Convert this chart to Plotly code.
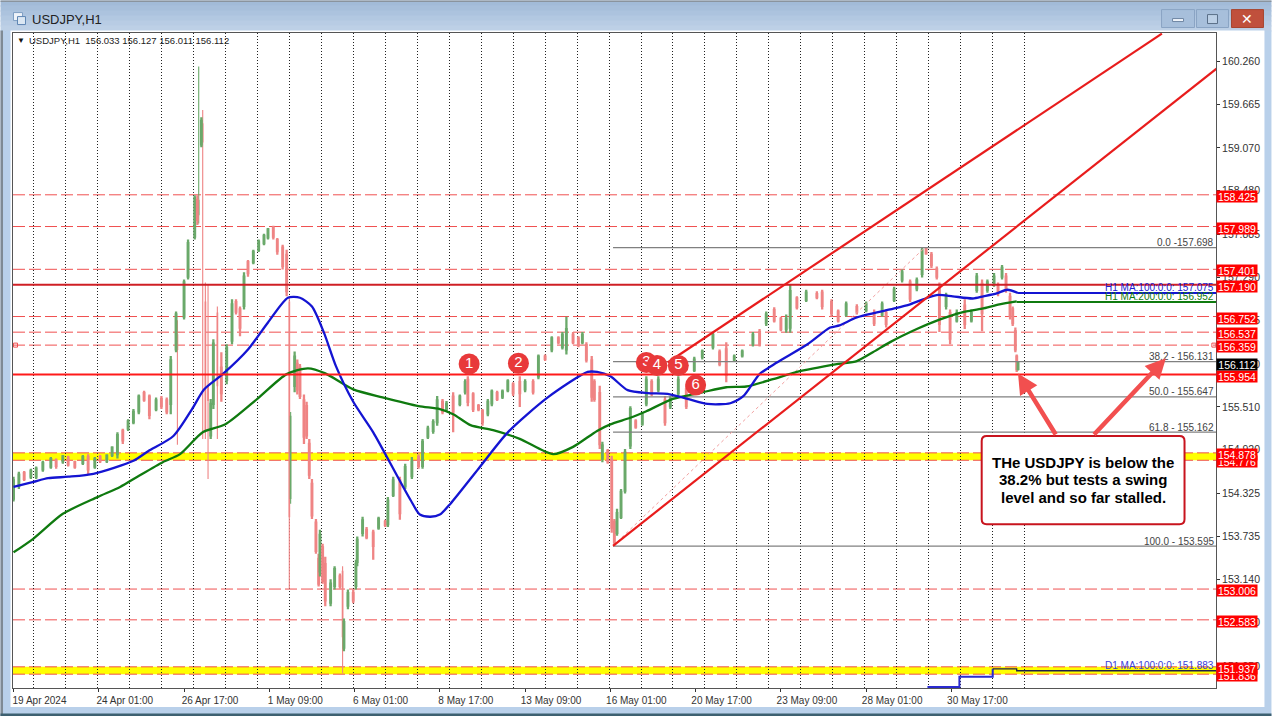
import plotly.graph_objects as go

# ---- candle data (hourly bar index, prices) ----
bars = [0,4,8,13,17,22,28,32,37,41,
46,52,56,61,65,70,74,78,82,86,
90,94,98,102,107,111,115,118,122,123,
128,131,136,138,139,141,142,144,146,148,
150,153,156,160,164,167,170,173,176,180,
184,188,191,195,198,202,205,207,208,211,
213,215,218,220,222,224,227,229,230,232,
234,238,241,245,247,248,251,255,257,258,
262,265,270,274,279,281,285,290,294,299,
304,307,311,315,318,322,325,330,335,339,
341,345,349,352,356,359,363,367,371,375,
380,384,390,394,399,404,409,412,415,420,
424,427,430,434,436,440,442,446,449,451,
453,456,459,463,467,472,475,479,484,489,
493,499,505,511,517,525,530,535,541,547,
555,560,565,571,576,580,583,588,595,603,
607,614,619,625,633,640,646,652,655,661,
667,673,678,682,685,689,693,695,700,703,
708,714,719,723,727,731,736,739,742,745,
748,750,752,753,754]
opens = [154.25,154.42,154.60,154.55,154.55,154.65,154.69,154.77,154.76,154.81,
154.75,154.74,154.82,154.69,154.82,154.77,154.85,154.86,155.18,155.21,
155.30,155.45,155.70,155.65,155.48,155.62,155.60,155.55,156.30,156.50,
156.75,157.30,157.85,158.35,158.15,159.12,159.40,156.95,155.80,155.12,
155.55,156.80,156.05,155.88,156.42,156.95,156.85,156.90,157.50,157.50,
157.67,157.76,157.84,157.97,157.80,157.70,157.60,156.95,154.25,155.80,
156.10,156.05,155.60,155.52,155.00,154.45,153.92,153.42,153.25,153.58,
153.35,152.82,153.05,153.18,153.25,152.20,152.78,152.95,153.05,153.38,
153.78,153.82,153.78,153.85,153.93,153.90,154.30,154.50,154.42,154.56,
154.82,154.70,155.10,155.18,155.30,155.58,155.48,155.65,155.55,155.72,
155.88,155.68,155.52,155.45,155.42,155.56,155.70,155.65,155.74,155.82,
155.85,155.75,155.85,155.93,156.20,156.30,156.45,156.33,156.30,156.50,
156.45,156.40,156.36,156.15,155.85,155.70,154.80,154.90,154.78,153.93,
153.78,154.00,154.36,154.98,155.31,155.28,155.56,155.85,155.75,155.60,
155.52,155.70,155.75,156.02,156.20,156.34,156.26,156.30,156.16,156.22,
156.38,156.54,156.66,156.84,156.72,156.58,156.60,157.00,156.98,157.06,
157.08,156.95,156.82,156.78,156.88,156.84,156.80,156.78,156.80,156.98,
157.26,157.22,157.14,157.34,157.68,157.60,157.40,157.15,156.90,156.80,
156.70,156.90,156.70,157.12,157.20,157.12,157.20,157.18,157.30,157.30,
157.02,156.85,156.55,156.20,156.033]
highs = [154.55,154.62,154.63,154.66,154.69,154.77,154.82,154.80,154.85,154.84,
154.77,154.85,154.86,154.82,154.85,154.86,154.97,155.16,155.21,155.34,
155.48,155.68,155.73,155.68,155.64,155.66,155.64,156.21,156.82,156.70,
157.26,157.81,158.42,158.42,160.19,159.49,159.59,157.22,157.19,155.62,
156.44,156.89,156.26,156.37,156.99,156.99,156.89,157.36,157.53,157.67,
157.81,157.89,157.97,158.00,157.83,157.74,157.67,157.03,155.44,156.27,
156.16,156.10,155.68,155.58,155.07,154.52,153.97,153.49,153.82,153.63,
153.45,153.14,153.32,153.22,153.32,152.60,153.00,153.00,153.41,153.73,
154.00,153.86,153.82,154.00,153.96,154.27,154.55,154.55,154.73,154.82,
154.86,155.07,155.25,155.34,155.66,155.62,155.59,155.71,155.68,155.89,
155.93,155.71,155.55,155.48,155.62,155.75,155.73,155.75,155.89,155.85,
155.93,155.89,155.89,156.23,156.23,156.48,156.48,156.54,156.75,156.54,
156.48,156.54,156.40,156.21,155.89,155.80,155.03,154.93,154.84,153.97,
154.11,154.38,154.93,155.52,155.34,155.44,155.93,155.89,155.93,155.66,
155.66,155.93,155.80,156.20,156.30,156.54,156.30,156.40,156.23,156.30,
156.54,156.58,156.82,156.88,156.75,156.78,157.19,157.03,157.12,157.10,
157.12,156.99,156.85,156.96,156.92,156.96,156.85,156.96,156.85,157.16,
157.40,157.26,157.29,157.70,157.70,157.64,157.44,157.22,157.08,156.85,
156.85,156.99,156.85,157.35,157.26,157.26,157.35,157.22,157.46,157.35,
157.08,156.89,156.60,156.23,156.127]
lows = [154.21,154.38,154.49,154.52,154.52,154.62,154.66,154.66,154.73,154.69,
154.66,154.71,154.58,154.66,154.74,154.74,154.82,154.80,155.00,155.18,
155.27,155.41,155.58,155.34,155.45,155.48,155.41,155.41,156.26,154.99,
156.71,157.26,157.81,158.01,158.03,159.08,155.07,155.07,154.52,155.07,
155.48,155.07,155.58,155.82,156.37,156.78,156.48,156.85,157.30,157.47,
157.64,157.73,157.81,157.81,157.60,157.40,157.03,153.01,154.18,155.71,
155.68,155.62,155.00,155.07,154.52,153.97,153.49,153.04,153.18,153.08,
152.77,152.77,153.00,153.01,151.85,152.15,152.73,152.81,153.00,153.32,
153.73,153.69,153.41,153.82,153.86,153.86,154.27,153.96,154.38,154.52,
154.66,154.66,155.07,155.14,155.25,155.41,155.45,155.16,155.52,155.68,
155.52,155.44,155.45,155.25,155.38,155.52,155.59,155.62,155.71,155.66,
155.51,155.71,155.68,155.89,156.14,156.26,156.37,156.30,156.23,156.37,
156.33,156.37,156.12,155.58,155.58,154.93,154.75,154.73,153.78,153.60,
153.74,153.97,154.32,154.93,155.21,155.25,155.52,155.66,155.71,155.25,
155.48,155.66,155.48,155.99,156.16,156.30,156.07,155.85,156.14,156.19,
156.34,156.34,156.62,156.67,156.55,156.53,156.53,156.85,156.95,156.99,
156.85,156.75,156.67,156.75,156.78,156.81,156.62,156.75,156.60,156.95,
157.22,156.95,157.10,157.29,157.60,157.42,157.26,156.54,156.85,156.37,
156.67,156.58,156.67,157.08,156.55,157.08,157.16,157.03,157.26,157.08,
156.71,156.62,156.26,155.99,156.011]
closes = [154.50,154.58,154.52,154.63,154.66,154.74,154.79,154.70,154.83,154.72,
154.69,154.82,154.65,154.79,154.77,154.84,154.95,155.12,155.05,155.31,
155.44,155.65,155.61,155.40,155.60,155.52,155.45,156.15,156.78,156.30,
157.22,157.76,158.38,158.08,158.35,159.44,159.15,155.20,155.60,155.55,
156.38,155.80,155.70,156.32,156.92,156.82,156.60,157.30,157.35,157.64,
157.78,157.86,157.95,157.85,157.65,157.45,157.10,154.00,155.38,156.20,
155.75,155.66,155.10,155.12,154.58,154.02,153.53,153.08,153.75,153.12,
152.85,153.08,153.28,153.05,152.35,152.55,152.95,152.85,153.35,153.68,
153.95,153.72,153.60,153.97,153.89,154.22,154.50,154.05,154.68,154.76,
154.70,155.03,155.21,155.30,155.60,155.45,155.55,155.45,155.65,155.85,
155.58,155.48,155.48,155.30,155.58,155.72,155.62,155.72,155.86,155.70,
155.70,155.85,155.72,156.20,156.17,156.45,156.40,156.50,156.58,156.40,
156.36,156.50,156.16,155.65,155.62,155.00,154.98,154.76,153.85,153.65,
154.05,154.34,154.88,155.48,155.24,155.40,155.88,155.70,155.88,155.30,
155.62,155.88,155.52,156.16,156.27,156.50,156.10,155.95,156.20,156.27,
156.50,156.38,156.78,156.70,156.58,156.72,157.10,156.88,157.08,157.02,
156.90,156.80,156.70,156.92,156.82,156.92,156.66,156.92,156.65,157.12,
157.36,157.00,157.25,157.66,157.62,157.46,157.30,156.65,157.04,156.45,
156.80,156.65,156.80,157.30,156.80,157.22,157.30,157.08,157.42,157.12,
156.76,156.66,156.30,156.03,156.112]

# ---- moving averages ----
ma100_bars = [0,15,26,41,60,90,101,120,134,143,157,176,191,206,215,224,233,242,255,270,288,298,305,313,320,328,349,371,401,431,438,448,461,476,491,506,521,538,548,560,573,596,613,620,633,658,673,686,694,705,720,728,738,746,754]
ma100_vals = [154.41,154.48,154.53,154.55,154.59,154.77,154.90,155.11,155.48,155.75,155.96,156.30,156.67,157.01,157.01,156.89,156.53,156.07,155.58,155.16,154.56,154.23,154.03,154.00,154.03,154.18,154.66,155.16,155.64,155.99,155.99,155.93,155.74,155.70,155.69,155.62,155.55,155.56,155.66,155.96,156.12,156.37,156.60,156.63,156.74,156.85,156.92,157.01,157.05,157.03,157.00,157.03,157.07,157.12,157.075]
ma200_bars = [0,15,37,63,80,93,112,125,142,159,183,205,221,234,255,277,304,320,330,343,360,380,405,420,438,448,463,475,495,517,535,550,570,588,619,633,645,658,678,695,712,727,740,753]
ma200_vals = [153.51,153.70,154.04,154.27,154.41,154.55,154.75,154.86,155.16,155.27,155.62,155.96,156.04,155.97,155.75,155.64,155.52,155.48,155.41,155.26,155.19,155.07,154.86,154.96,155.18,155.27,155.36,155.45,155.62,155.71,155.78,155.79,155.89,155.99,156.10,156.14,156.26,156.40,156.58,156.71,156.81,156.86,156.92,156.96]
ma100_last = 157.075
ma200_last = 156.952
d1_step_bars = [686,710,735]
d1_step_vals = [151.66,151.80,151.91]
d1_flat_bars = [735,753,903]
d1_flat_vals = [151.91,151.883,151.883]

# ---- levels ----
dashed_levels = [158.425,157.989,157.401,156.752,156.537,156.359,154.878,154.776,153.006,152.583,151.937,151.836]
yellow_bands = [(154.776,154.878),(151.836,151.937)]
solid_levels = [157.190,155.954]
solid_colors = ["#cf1f25","#ff1a1a"]
fib_levels = [157.698,156.131,155.647,155.162,153.595]
fib_labels = ["0.0 -157.698","38.2 - 156.131","50.0 - 155.647","61.8 - 155.162","100.0 - 153.595"]
tag_levels = [158.425,157.989,157.401,157.190,156.752,156.537,156.359,154.776,154.878,153.006,152.583,151.836,151.937,155.954]
last_price = 156.112

# ---- channel ----
channel_upper_bars = [491,862]
channel_upper_vals = [156.12,160.64]
channel_lower_bars = [450,903]
channel_lower_vals = [153.60,160.16]
fib_trend_bars = [450,684]
fib_trend_vals = [153.60,157.70]

# ---- numbered circles ----
circle_labels = ["1","2","3","4","5","6"]
circle_bars = [342,379,475,483,499,512]
circle_vals = [156.10,156.11,156.12,156.08,156.08,155.81]

# ---- callout ----
callout_lines = ["THe USDJPY is below the", "38.2% but tests a swing", "level and so far stalled."]

# ---- axes ----
x_tick_bars = [0,64,128,192,256,320,384,448,512,576,640,704]
x_tick_text = ["19 Apr 2024","24 Apr 01:00","26 Apr 17:00","1 May 09:00","6 May 01:00","8 May 17:00","13 May 09:00","16 May 01:00","20 May 17:00","23 May 09:00","28 May 01:00","30 May 17:00"]
grid_bars = list(range(15,760,24))
y_ticks = [160.260,159.665,159.070,158.480,157.885,157.290,156.695,156.100,155.510,154.920,154.325,153.735,153.140,152.550,151.950]
x_range = [-0.4,902.6]
y_range = [151.646,160.649]

W, H = 1272, 718
PL, PR, PT, PB = 12.5, 1216.5, 32.5, 690
FONT = "Liberation Sans"
GREEN, RED = "#6aa96a", "#ef8484"
LINE_END = x_range[1]

# plotly's paper coordinates are relative to the plot area
def px(x): return (x - PL) / (PR - PL)
def py(y): return (PB - y) / (PB - PT)

fig = go.Figure()

for lv in fib_levels:
    fig.add_trace(go.Scatter(x=[450, LINE_END], y=[lv, lv], mode="lines", line=dict(color="#808080", width=1.2), hoverinfo="skip"))
fig.add_trace(go.Scatter(x=fib_trend_bars, y=fib_trend_vals, mode="lines", line=dict(color="#f2a0a0", width=1, dash="dot"), hoverinfo="skip"))

# ordinary candles are drawn broader (they overlap in the source); long spikes stay thin
ordinary = [k for k in range(len(bars)) if highs[k] - lows[k] < 1.2]
spikes = [k for k in range(len(bars)) if highs[k] - lows[k] >= 1.2]
for idx, lw in ((spikes, 1.1), (ordinary, 2.3)):
    fig.add_trace(go.Candlestick(x=[bars[k] for k in idx], open=[opens[k] for k in idx], high=[highs[k] for k in idx],
        low=[lows[k] for k in idx], close=[closes[k] for k in idx],
        increasing=dict(line=dict(color=GREEN, width=lw), fillcolor=GREEN),
        decreasing=dict(line=dict(color=RED, width=lw), fillcolor=RED), whiskerwidth=0, hoverinfo="skip"))

fig.add_trace(go.Scatter(x=d1_step_bars, y=d1_step_vals, mode="lines", line=dict(color="#2a2ad0", width=2, shape="hv"), hoverinfo="skip"))
fig.add_trace(go.Scatter(x=d1_flat_bars, y=d1_flat_vals, mode="lines", line=dict(color="#20204a", width=1.3, shape="hv"), hoverinfo="skip"))
fig.add_trace(go.Scatter(x=ma200_bars, y=ma200_vals, mode="lines", line=dict(color="#0f7a0f", width=2.3, shape="spline", smoothing=0.7), hoverinfo="skip"))
fig.add_trace(go.Scatter(x=[ma200_bars[-1], LINE_END], y=[ma200_last, ma200_last], mode="lines", line=dict(color="#0f7a0f", width=2), hoverinfo="skip"))
fig.add_trace(go.Scatter(x=ma100_bars, y=ma100_vals, mode="lines", line=dict(color="#1414d2", width=2.3, shape="spline", smoothing=0.7), hoverinfo="skip"))
fig.add_trace(go.Scatter(x=[ma100_bars[-1], LINE_END], y=[ma100_last, ma100_last], mode="lines", line=dict(color="#1414d2", width=2), hoverinfo="skip"))

for lv, col in zip(solid_levels, solid_colors):
    fig.add_trace(go.Scatter(x=[x_range[0], LINE_END], y=[lv, lv], mode="lines", line=dict(color=col, width=2), hoverinfo="skip"))
for xs, ys in ((channel_upper_bars, channel_upper_vals), (channel_lower_bars, channel_lower_vals)):
    fig.add_trace(go.Scatter(x=xs, y=ys, mode="lines", line=dict(color="#e81c1c", width=2.2), hoverinfo="skip"))

fig.add_trace(go.Scatter(x=[1.5, 901], y=[156.359, 156.359], mode="markers",
    marker=dict(symbol="square-open", size=4, color="#f05050", line=dict(width=1)), hoverinfo="skip"))

for label, bx, val in zip(circle_labels, circle_bars, circle_vals):
    fig.add_trace(go.Scatter(x=[bx], y=[val], mode="markers+text", text=[label], textposition="middle center",
        textfont=dict(color="white", size=15, family=FONT),
        marker=dict(size=21, color="#e8393a"), hoverinfo="skip"))

# ---- window chrome ----
shapes = []
def rect(x0, y0, x1, y1, fill, line=None, lw=0):
    shapes.append(dict(type="rect", xref="paper", yref="paper", x0=px(x0), x1=px(x1), y0=py(y1), y1=py(y0),
                       fillcolor=fill, line=dict(color=line or fill, width=lw), layer="below"))
band_cols = ["#a2bbd8","#a7bfdb","#acc3de","#b2c8e1","#b8cce4","#bdd0e6"]
for k, c in enumerate(band_cols):
    rect(0, k*5, W, (k+1)*5+1, c)
rect(0, 0, W, 1.5, "#8a949e")
rect(0, 30, W, H, "#b9d0ea")
rect(0, 30, 2.5, H, "#7f8a94")
rect(10, 30, 1265, 709, "#ffffff")
rect(0, 715.5, W, H, "#3d6070")
# icon
rect(13, 12, 22, 20, "#eef3f9", "#7f9fc4", 1)
rect(17, 16, 25, 24, "#dbe7f3", "#5f86b4", 1)
# buttons
rect(1162, 9, 1195, 27, "#a7bfdb", "#8aa4c4", 1)
rect(1197, 9, 1229, 27, "#a7bfdb", "#8aa4c4", 1)
rect(1232, 9, 1264, 27, "#c0503c", "#a8452f", 1)
rect(1173, 18, 1184, 21, "#eef3f9", "#6f87a4", 1)
rect(1208, 14, 1218, 23, "#bcd0e6", "#5a6f88", 1)

# yellow bands and dashed levels, on top of the chrome but beneath the candles
for lo, hi in yellow_bands:
    shapes.append(dict(type="rect", xref="paper", yref="y", x0=0, x1=1, y0=lo, y1=hi, fillcolor="#ffff00", line=dict(width=0), layer="below"))
for lv in dashed_levels:
    shapes.append(dict(type="line", xref="paper", yref="y", x0=0, x1=1, y0=lv, y1=lv, line=dict(color="#f05050", width=1, dash="12px,4px"), layer="below"))

# callout
x0, y0, x1, y1, r = 982, 437, 1185, 525.5, 5
path = (f"M {px(x0+r)} {py(y0)} L {px(x1-r)} {py(y0)} Q {px(x1)} {py(y0)} {px(x1)} {py(y0+r)} "
        f"L {px(x1)} {py(y1-r)} Q {px(x1)} {py(y1)} {px(x1-r)} {py(y1)} L {px(x0+r)} {py(y1)} "
        f"Q {px(x0)} {py(y1)} {px(x0)} {py(y1-r)} L {px(x0)} {py(y0+r)} Q {px(x0)} {py(y0)} {px(x0+r)} {py(y0)} Z")
callout = dict(type="path", path=path, xref="paper", yref="paper", fillcolor="white",
               line=dict(color="#c8141e", width=2), layer="above")

# ---- text ----
ann = []
def txt(x, y, s, size=10, color="#333333", anchor="left", **kw):
    ann.append(dict(x=px(x), y=py(y), xref="paper", yref="paper", text=s, showarrow=False, xanchor=anchor,
                    yanchor="middle", font=dict(family=FONT, size=size, color=color), **kw))
txt(30, 19, "USDJPY,H1", size=13, color="#222222")
txt(1248, 18, "✕", size=14, color="white", anchor="center")
txt(15, 40.5, "▼", size=8, color="#111111")
txt(26.5, 40.5, "USDJPY,H1&nbsp;&nbsp;156.033 156.127 156.011 156.112", size=9.5, color="#222222")

for lv, s in zip(fib_levels, fib_labels):
    ann.append(dict(x=px(1217), xref="paper", y=lv, yref="y", text=s, showarrow=False, xanchor="right",
                    yanchor="bottom", yshift=-2.5, font=dict(family=FONT, size=10, color="#444444")))
for lv, s, c in ((157.075, "H1 MA:100:0:0: 157.075", "#2020d0"), (156.952, "H1 MA:200:0:0: 156.952", "#0f7a0f"),
                 (151.883, "D1 MA:100:0:0: 151.883", "#4040d8")):
    ann.append(dict(x=px(1217), xref="paper", y=lv, yref="y", text=s, showarrow=False, xanchor="right",
                    yanchor="bottom", yshift=-2, font=dict(family=FONT, size=10, color=c)))

for lv in tag_levels:
    ann.append(dict(x=px(1238), xref="paper", y=lv, yref="y", text=f"{lv:.3f}", showarrow=False, xanchor="center",
                    yanchor="middle", yshift=-1.5, width=40, height=11, borderpad=0, bgcolor="#ff0000",
                    font=dict(family=FONT, size=10.5, color="white")))
ann.append(dict(x=px(1238), xref="paper", y=last_price, yref="y", text=f"{last_price:.3f}", showarrow=False, xanchor="center",
                yanchor="middle", yshift=-1.5, width=40, height=11, borderpad=0, bgcolor="#000000",
                font=dict(family=FONT, size=10.5, color="white")))

# arrows (tail on top edge of callout)
for tip_b, tip_v, tail_b, tail_v in ((754, 155.97, 783, 155.11), (865, 156.18, 810, 155.11)):
    ann.append(dict(x=tip_b, y=tip_v, xref="x", yref="y", ax=tail_b, ay=tail_v, axref="x", ayref="y", text="",
                    showarrow=True, arrowhead=2, arrowsize=0.9, arrowwidth=4.5, arrowcolor="#f24f4f"))
for line, yy in zip(callout_lines, (463.5, 481, 498.5)):
    txt(1083.5, yy, f"<b>{line}</b>", size=15, color="#000000", anchor="center")

fig.update_layout(
    width=W, height=H, autosize=False, showlegend=False,
    margin=dict(l=PL, r=W-PR, t=PT, b=H-PB, pad=0),
    paper_bgcolor="#ffffff", plot_bgcolor="#ffffff",
    shapes=shapes + [callout], annotations=ann,
    font=dict(family=FONT, size=10, color="#333333"),
    xaxis=dict(range=x_range, rangeslider=dict(visible=False), tickmode="array", tickvals=x_tick_bars, ticktext=x_tick_text,
               ticks="outside", ticklen=3, tickcolor="#333", showgrid=False, zeroline=False, showline=True, linecolor="#555",
               linewidth=1, mirror=True, ticklabelshift=26, tickangle=0,
               minor=dict(tickmode="array", tickvals=grid_bars, showgrid=True, griddash="1px,2px", gridcolor="#222222", gridwidth=1, ticks="")),
    yaxis=dict(range=y_range, side="right", tickmode="array", tickvals=y_ticks, ticktext=[f"{v:.3f}" for v in y_ticks],
               ticks="outside", ticklen=3, tickcolor="#333", showgrid=False, zeroline=False, showline=True, linecolor="#555",
               linewidth=1, mirror=True, tickfont=dict(size=10.5)),
)

fig.write_html("out.html", config={"displayModeBar": False},
               post_script="document.body.style.margin='0';document.body.style.overflow='hidden';")
